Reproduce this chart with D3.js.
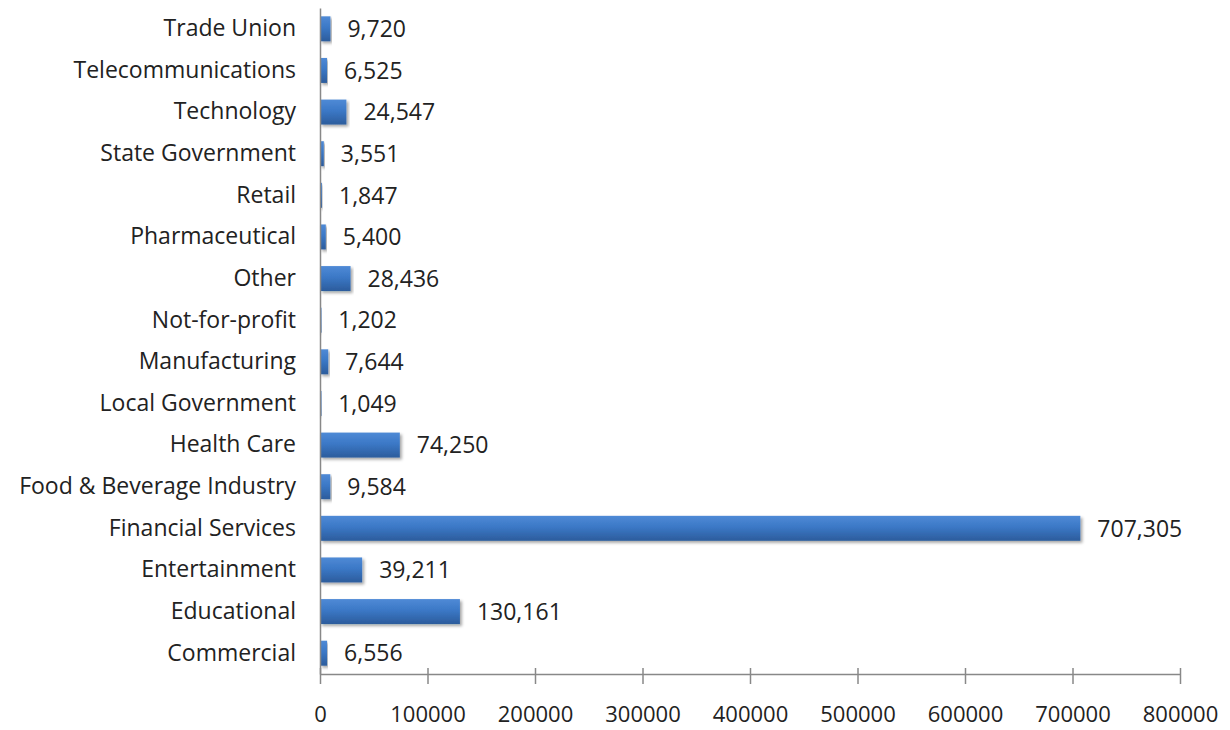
<!DOCTYPE html>
<html>
<head>
<meta charset="utf-8">
<script src="https://cdn.jsdelivr.net/npm/d3@7"></script>
<style>
	body { margin: 0; background: #fff; }
	svg text { font-family: "Open Sans", Lato, sans-serif; fill: #222; }
</style>
</head>
<body>
<svg id="chart" width="1230" height="730"></svg>
<script>
'use strict';

// categories top to bottom, as in the picture
var categories = ["Trade Union", "Telecommunications", "Technology", "State Government", "Retail",
	"Pharmaceutical", "Other", "Not-for-profit", "Manufacturing", "Local Government", "Health Care",
	"Food & Beverage Industry", "Financial Services", "Entertainment", "Educational", "Commercial"];
var values = [9720, 6525, 24547, 3551, 1847, 5400, 28436, 1202, 7644, 1049, 74250, 9584,
	707305, 39211, 130161, 6556];
var xTicks = [0, 100000, 200000, 300000, 400000, 500000, 600000, 700000, 800000];

var svg = d3.select("#chart");
var plotLeft = 320, plotRight = 1180, plotTop = 8, plotBottom = 674;
var fontSize = "23px";

var x = d3.scaleLinear()
	.domain([0, 800000])
	.range([plotLeft, plotRight]);

var y = d3.scaleBand()
	.domain(categories)
	.range([plotTop, plotBottom])
	.paddingInner(0.4)
	.paddingOuter(0.2);

var defs = svg.append("defs");
var grad = defs.append("linearGradient")
	.attr("id", "barGrad")
	.attr("x1", 0).attr("y1", 0).attr("x2", 0).attr("y2", 1);
grad.append("stop").attr("offset", "0%").attr("stop-color", "#4f8ad6");
grad.append("stop").attr("offset", "45%").attr("stop-color", "#3b78c6");
grad.append("stop").attr("offset", "100%").attr("stop-color", "#2c5c9c");

var shadow = defs.append("filter")
	.attr("id", "shadow")
	.attr("x", "-5%").attr("y", "-30%").attr("width", "115%").attr("height", "180%");
shadow.append("feDropShadow")
	.attr("dx", 2).attr("dy", 2).attr("stdDeviation", 1.8)
	.attr("flood-color", "#000").attr("flood-opacity", 0.35);

// bars
svg.append("g")
	.selectAll("rect")
	.data(values)
	.enter()
	.append("rect")
	.attr("x", x(0))
	.attr("y", function(d, i) { return y(categories[i]); })
	.attr("width", function(d) { return Math.max(1.5, x(d) - x(0)); })
	.attr("height", y.bandwidth())
	.attr("fill", "url(#barGrad)")
	.attr("filter", "url(#shadow)");

// value labels
var fmt = d3.format(",");
svg.append("g")
	.selectAll("text")
	.data(values)
	.enter()
	.append("text")
	.attr("x", function(d) { return x(d) + 17; })
	.attr("y", function(d, i) { return y(categories[i]) + y.bandwidth() / 2; })
	.attr("dy", "0.36em")
	.style("font-size", fontSize)
	.text(function(d) { return fmt(d); });

// category axis
var yAxis = svg.append("g")
	.attr("transform", "translate(" + plotLeft + ",0)")
	.call(d3.axisLeft(y).tickSize(0).tickPadding(24));
yAxis.select(".domain").attr("stroke", "#888").attr("stroke-width", 1.5);
yAxis.selectAll("text").style("font-size", fontSize);

// value axis
var xAxis = svg.append("g")
	.attr("transform", "translate(0," + plotBottom + ")")
	.call(d3.axisBottom(x).tickValues(xTicks).tickFormat(d3.format("d")).tickSizeOuter(0).tickSizeInner(10).tickPadding(22));
xAxis.select(".domain").attr("stroke", "#888").attr("stroke-width", 1.5);
xAxis.selectAll(".tick line").attr("stroke", "#888").attr("stroke-width", 1.5).attr("y1", -6);
xAxis.selectAll("text").style("font-size", "22px");
</script>
</body>
</html>
